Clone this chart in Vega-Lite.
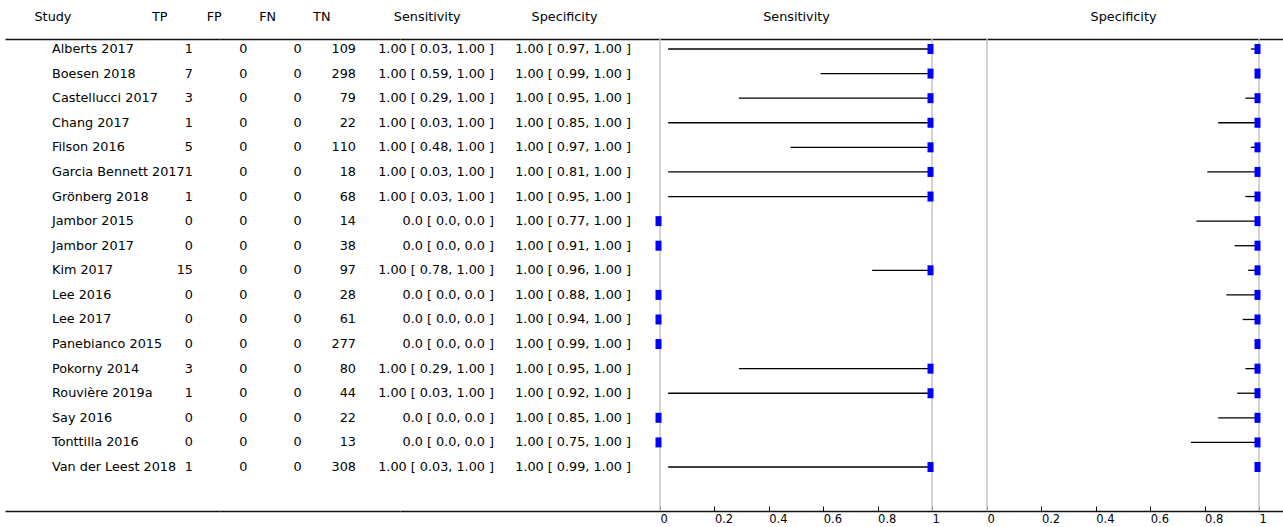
{
  "$schema": "https://vega.github.io/schema/vega-lite/v6.json",
  "background": "white",
  "padding": {"left": 5, "top": 10, "right": 0, "bottom": 0},
  "spacing": 0,
  "bounds": "flush",
  "config": {
    "font": "DejaVu Sans",
    "view": {"stroke": null},
    "text": {"font": "DejaVu Sans", "fontSize": 12.8, "color": "#000"},
    "axis": {"labelFont": "DejaVu Sans", "labelFontSize": 12.8, "labelColor": "#000", "domainColor": "#111", "domainWidth": 1.5, "tickColor": "#111", "grid": false, "title": null, "labelAngle": 0, "labelOverlap": false}
  },
  "datasets": {
    "studies": [
      {"Study": "Alberts 2017", "TP": 1, "FP": 0, "FN": 0, "TN": 109, "Sensitivity": "1.00 [ 0.03, 1.00 ]", "Specificity": "1.00 [ 0.97, 1.00 ]", "sens": 1, "sens_lo": 0.03, "sens_hi": 1, "spec": 1, "spec_lo": 0.97, "spec_hi": 1},
      {"Study": "Boesen 2018", "TP": 7, "FP": 0, "FN": 0, "TN": 298, "Sensitivity": "1.00 [ 0.59, 1.00 ]", "Specificity": "1.00 [ 0.99, 1.00 ]", "sens": 1, "sens_lo": 0.59, "sens_hi": 1, "spec": 1, "spec_lo": 0.99, "spec_hi": 1},
      {"Study": "Castellucci 2017", "TP": 3, "FP": 0, "FN": 0, "TN": 79, "Sensitivity": "1.00 [ 0.29, 1.00 ]", "Specificity": "1.00 [ 0.95, 1.00 ]", "sens": 1, "sens_lo": 0.29, "sens_hi": 1, "spec": 1, "spec_lo": 0.95, "spec_hi": 1},
      {"Study": "Chang 2017", "TP": 1, "FP": 0, "FN": 0, "TN": 22, "Sensitivity": "1.00 [ 0.03, 1.00 ]", "Specificity": "1.00 [ 0.85, 1.00 ]", "sens": 1, "sens_lo": 0.03, "sens_hi": 1, "spec": 1, "spec_lo": 0.85, "spec_hi": 1},
      {"Study": "Filson 2016", "TP": 5, "FP": 0, "FN": 0, "TN": 110, "Sensitivity": "1.00 [ 0.48, 1.00 ]", "Specificity": "1.00 [ 0.97, 1.00 ]", "sens": 1, "sens_lo": 0.48, "sens_hi": 1, "spec": 1, "spec_lo": 0.97, "spec_hi": 1},
      {"Study": "Garcia Bennett 2017", "TP": 1, "FP": 0, "FN": 0, "TN": 18, "Sensitivity": "1.00 [ 0.03, 1.00 ]", "Specificity": "1.00 [ 0.81, 1.00 ]", "sens": 1, "sens_lo": 0.03, "sens_hi": 1, "spec": 1, "spec_lo": 0.81, "spec_hi": 1},
      {"Study": "Grönberg 2018", "TP": 1, "FP": 0, "FN": 0, "TN": 68, "Sensitivity": "1.00 [ 0.03, 1.00 ]", "Specificity": "1.00 [ 0.95, 1.00 ]", "sens": 1, "sens_lo": 0.03, "sens_hi": 1, "spec": 1, "spec_lo": 0.95, "spec_hi": 1},
      {"Study": "Jambor 2015", "TP": 0, "FP": 0, "FN": 0, "TN": 14, "Sensitivity": "0.0 [ 0.0, 0.0 ]", "Specificity": "1.00 [ 0.77, 1.00 ]", "sens": 0, "sens_lo": 0, "sens_hi": 0, "spec": 1, "spec_lo": 0.77, "spec_hi": 1},
      {"Study": "Jambor 2017", "TP": 0, "FP": 0, "FN": 0, "TN": 38, "Sensitivity": "0.0 [ 0.0, 0.0 ]", "Specificity": "1.00 [ 0.91, 1.00 ]", "sens": 0, "sens_lo": 0, "sens_hi": 0, "spec": 1, "spec_lo": 0.91, "spec_hi": 1},
      {"Study": "Kim 2017", "TP": 15, "FP": 0, "FN": 0, "TN": 97, "Sensitivity": "1.00 [ 0.78, 1.00 ]", "Specificity": "1.00 [ 0.96, 1.00 ]", "sens": 1, "sens_lo": 0.78, "sens_hi": 1, "spec": 1, "spec_lo": 0.96, "spec_hi": 1},
      {"Study": "Lee 2016", "TP": 0, "FP": 0, "FN": 0, "TN": 28, "Sensitivity": "0.0 [ 0.0, 0.0 ]", "Specificity": "1.00 [ 0.88, 1.00 ]", "sens": 0, "sens_lo": 0, "sens_hi": 0, "spec": 1, "spec_lo": 0.88, "spec_hi": 1},
      {"Study": "Lee 2017", "TP": 0, "FP": 0, "FN": 0, "TN": 61, "Sensitivity": "0.0 [ 0.0, 0.0 ]", "Specificity": "1.00 [ 0.94, 1.00 ]", "sens": 0, "sens_lo": 0, "sens_hi": 0, "spec": 1, "spec_lo": 0.94, "spec_hi": 1},
      {"Study": "Panebianco 2015", "TP": 0, "FP": 0, "FN": 0, "TN": 277, "Sensitivity": "0.0 [ 0.0, 0.0 ]", "Specificity": "1.00 [ 0.99, 1.00 ]", "sens": 0, "sens_lo": 0, "sens_hi": 0, "spec": 1, "spec_lo": 0.99, "spec_hi": 1},
      {"Study": "Pokorny 2014", "TP": 3, "FP": 0, "FN": 0, "TN": 80, "Sensitivity": "1.00 [ 0.29, 1.00 ]", "Specificity": "1.00 [ 0.95, 1.00 ]", "sens": 1, "sens_lo": 0.29, "sens_hi": 1, "spec": 1, "spec_lo": 0.95, "spec_hi": 1},
      {"Study": "Rouvière 2019a", "TP": 1, "FP": 0, "FN": 0, "TN": 44, "Sensitivity": "1.00 [ 0.03, 1.00 ]", "Specificity": "1.00 [ 0.92, 1.00 ]", "sens": 1, "sens_lo": 0.03, "sens_hi": 1, "spec": 1, "spec_lo": 0.92, "spec_hi": 1},
      {"Study": "Say 2016", "TP": 0, "FP": 0, "FN": 0, "TN": 22, "Sensitivity": "0.0 [ 0.0, 0.0 ]", "Specificity": "1.00 [ 0.85, 1.00 ]", "sens": 0, "sens_lo": 0, "sens_hi": 0, "spec": 1, "spec_lo": 0.85, "spec_hi": 1},
      {"Study": "Tonttilla 2016", "TP": 0, "FP": 0, "FN": 0, "TN": 13, "Sensitivity": "0.0 [ 0.0, 0.0 ]", "Specificity": "1.00 [ 0.75, 1.00 ]", "sens": 0, "sens_lo": 0, "sens_hi": 0, "spec": 1, "spec_lo": 0.75, "spec_hi": 1},
      {"Study": "Van der Leest 2018", "TP": 1, "FP": 0, "FN": 0, "TN": 308, "Sensitivity": "1.00 [ 0.03, 1.00 ]", "Specificity": "1.00 [ 0.99, 1.00 ]", "sens": 1, "sens_lo": 0.03, "sens_hi": 1, "spec": 1, "spec_lo": 0.99, "spec_hi": 1}
    ]
  },
  "hconcat": [
    {
      "width": 215, "height": 472,
      "data": {"name": "studies"},
      "layer": [
        {
          "mark": {"type": "text", "align": "left"},
          "encoding": {
            "x": {"datum": "Study", "type": "nominal",
              "scale": {"type": "point", "domain": ["Study", "TP"], "padding": 0.2624, "align": 0.635},
              "axis": {"orient": "top", "ticks": false, "labelPadding": 16,
                "labelAlign": {"condition": {"test": "datum.value === 'Study'", "value": "left"}, "value": "right"},
                "labelOffset": {"condition": {"test": "datum.value === 'Study'", "value": -18}, "value": -26}}},
            "y": {"field": "Study", "type": "nominal", "sort": null, "scale": {"type": "point", "padding": 0, "range": [10, 428]}, "axis": null},
            "text": {"field": "Study", "type": "nominal"}
          }
        },
        {
          "mark": {"type": "text", "align": "right"},
          "encoding": {
            "x": {"datum": "TP", "type": "nominal", "axis": {"orient": "bottom", "labels": false, "ticks": false}},
            "y": {"field": "Study", "type": "nominal", "sort": null, "axis": null},
            "text": {"field": "TP", "type": "nominal"}
          }
        }
      ],
      "resolve": {"axis": {"x": "independent"}}
    },
    {
      "width": 180, "height": 472,
      "data": {"name": "studies"},
      "layer": [
        {
          "transform": [{"fold": ["FP", "FN"], "as": ["column", "count"]}],
          "mark": {"type": "text", "align": "right"},
          "encoding": {
            "x": {"field": "column", "type": "nominal",
              "scale": {"type": "point", "domain": ["FP", "FN", "TN"], "padding": 0.656, "align": 0.383},
              "axis": {"orient": "top", "ticks": false, "labelPadding": 16, "labelAlign": "right", "labelOffset": -26}},
            "y": {"field": "Study", "type": "nominal", "sort": null, "scale": {"type": "point", "padding": 0, "range": [10, 428]}, "axis": null},
            "text": {"field": "count", "type": "nominal"}
          }
        },
        {
          "mark": {"type": "text", "align": "right"},
          "encoding": {
            "x": {"datum": "TN", "type": "nominal", "axis": {"orient": "bottom", "labels": false, "ticks": false}},
            "y": {"field": "Study", "type": "nominal", "sort": null, "axis": null},
            "text": {"field": "TN", "type": "nominal"}
          }
        }
      ],
      "resolve": {"axis": {"x": "independent"}}
    },
    {
      "width": 260, "height": 472,
      "data": {"name": "studies"},
      "layer": [
        {
          "mark": {"type": "text", "align": "right"},
          "encoding": {
            "x": {"datum": "Sensitivity", "type": "nominal",
              "scale": {"type": "point", "domain": ["Sensitivity", "Specificity"], "padding": 0.4489, "align": 0.7642},
              "axis": {"orient": "top", "ticks": false, "labelPadding": 16, "labelAlign": "right", "labelOffset": -34}},
            "y": {"field": "Study", "type": "nominal", "sort": null, "scale": {"type": "point", "padding": 0, "range": [10, 428]}, "axis": null},
            "text": {"field": "Sensitivity", "type": "nominal"}
          }
        },
        {
          "mark": {"type": "text", "align": "right"},
          "encoding": {
            "x": {"datum": "Specificity", "type": "nominal", "axis": {"orient": "bottom", "labels": false, "ticks": false}},
            "y": {"field": "Study", "type": "nominal", "sort": null, "axis": null},
            "text": {"field": "Specificity", "type": "nominal"}
          }
        }
      ],
      "resolve": {"axis": {"x": "independent"}}
    },
    {
      "width": 327, "height": 472,
      "layer": [
        {
          "data": {"values": [{}]},
          "mark": {"type": "rule", "color": "#c4c4c4", "strokeWidth": 1.5},
          "encoding": {"x": {"datum": 0, "type": "quantitative", "scale": {"domain": [0, 1.2022], "nice": false, "zero": false}, "axis": null}}
        },
        {
          "data": {"values": [{}]},
          "mark": {"type": "rule", "color": "#c4c4c4", "strokeWidth": 1.5},
          "encoding": {"x": {"datum": 1, "type": "quantitative", "axis": null}}
        },
        {
          "data": {"name": "studies"},
          "mark": {"type": "rule", "color": "#000", "strokeWidth": 1.3},
          "encoding": {
            "x": {"field": "sens_lo", "type": "quantitative",
              "axis": {"orient": "bottom", "values": [0, 0.2, 0.4, 0.6, 0.8, 1], "format": "~g", "labelAlign": "left", "labelFlush": false, "labelFontSize": 11.5, "tickSize": -5, "labelPadding": 7}},
            "x2": {"field": "sens_hi"},
            "y": {"field": "Study", "type": "nominal", "sort": null, "scale": {"type": "point", "padding": 0, "range": [10, 428]}, "axis": null}
          }
        },
        {
          "data": {"name": "studies"},
          "mark": {"type": "tick", "color": "#0000ff", "thickness": 6, "size": 10, "orient": "vertical", "xOffset": -1.5, "opacity": 1},
          "encoding": {
            "x": {"field": "sens", "type": "quantitative",
              "axis": {"orient": "top", "values": [0.5], "labelExpr": "'Sensitivity'", "ticks": false, "labelPadding": 16, "labelAlign": "center", "labelFlush": false}},
            "y": {"field": "Study", "type": "nominal", "sort": null, "axis": null}
          }
        }
      ],
      "resolve": {"axis": {"x": "independent"}}
    },
    {
      "width": 296, "height": 472,
      "layer": [
        {
          "data": {"values": [{}]},
          "mark": {"type": "rule", "color": "#c4c4c4", "strokeWidth": 1.5},
          "encoding": {"x": {"datum": 0, "type": "quantitative", "scale": {"domain": [0, 1.0882], "nice": false, "zero": false}, "axis": null}}
        },
        {
          "data": {"values": [{}]},
          "mark": {"type": "rule", "color": "#c4c4c4", "strokeWidth": 1.5},
          "encoding": {"x": {"datum": 1, "type": "quantitative", "axis": null}}
        },
        {
          "data": {"name": "studies"},
          "mark": {"type": "rule", "color": "#000", "strokeWidth": 1.3},
          "encoding": {
            "x": {"field": "spec_lo", "type": "quantitative",
              "axis": {"orient": "bottom", "values": [0, 0.2, 0.4, 0.6, 0.8, 1], "format": "~g", "labelAlign": "left", "labelFlush": false, "labelFontSize": 11.5, "tickSize": -5, "labelPadding": 7}},
            "x2": {"field": "spec_hi"},
            "y": {"field": "Study", "type": "nominal", "sort": null, "scale": {"type": "point", "padding": 0, "range": [10, 428]}, "axis": null}
          }
        },
        {
          "data": {"name": "studies"},
          "mark": {"type": "tick", "color": "#0000ff", "thickness": 6, "size": 10, "orient": "vertical", "xOffset": -1.5, "opacity": 1},
          "encoding": {
            "x": {"field": "spec", "type": "quantitative",
              "axis": {"orient": "top", "values": [0.5], "labelExpr": "'Specificity'", "ticks": false, "labelPadding": 16, "labelAlign": "center", "labelFlush": false}},
            "y": {"field": "Study", "type": "nominal", "sort": null, "axis": null}
          }
        }
      ],
      "resolve": {"axis": {"x": "independent"}}
    }
  ]
}
